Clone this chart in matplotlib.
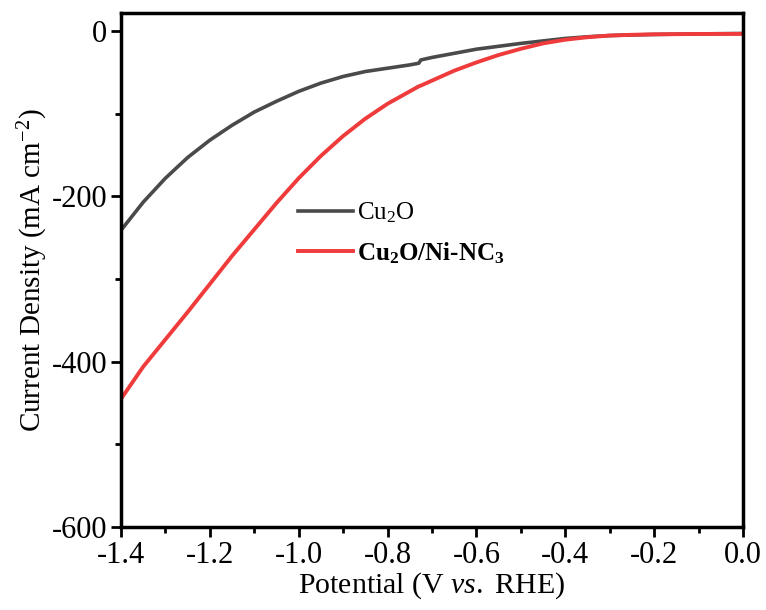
import matplotlib.pyplot as plt
import numpy as np

plt.rcParams['font.family'] = ['Liberation Serif', 'DejaVu Serif']
plt.rcParams['mathtext.fontset'] = 'custom'
plt.rcParams['mathtext.rm'] = 'Liberation Serif'
plt.rcParams['mathtext.it'] = 'Liberation Serif:italic'
plt.rcParams['mathtext.bf'] = 'Liberation Serif:bold'

# potential (V vs. RHE)
pot = [-1.4, -1.35, -1.3, -1.25, -1.2, -1.15, -1.1, -1.05, -1.0, -0.95, -0.9, -0.85,
       -0.8, -0.75, -0.73, -0.725, -0.7, -0.65, -0.6, -0.55, -0.5, -0.45, -0.4,
       -0.35, -0.3, -0.25, -0.2, -0.1, 0.0]
# current density (mA cm-2)
cu2o = [-241, -207, -178, -153, -132, -114, -98, -85, -73, -63, -55, -49,
        -45, -41, -39, -35, -32, -27, -22, -18.5, -15, -12, -9,
        -7, -5.5, -4.8, -4.2, -3.5, -3]
cu2o_ni = [-445, -406, -373, -340, -306, -272, -240, -208, -178, -151, -127, -106,
           -88, -73, -67, -66, -60, -48, -38, -29, -21.5, -15, -10.5,
           -7.5, -5.5, -4.6, -4, -3.6, -3.5]

fig = plt.figure(figsize=(7.66, 6.10), dpi=100)
ax = fig.add_axes([0.158, 0.136, 0.812, 0.843])

ax.plot(pot, cu2o, color='#4a4a4a', lw=2.6, label='Cu$_2$O')
ax.plot(pot, cu2o_ni, color='#ef3b3b', lw=2.8, label=r'$\mathbf{Cu_2O/Ni}$-$\mathbf{NC_3}$')

ax.set_xlim(-1.4, 0.0)
ax.set_ylim(-600, 22)
ax.set_xticks(np.arange(-1.4, 0.01, 0.2))
ax.set_xticklabels(['-1.4', '-1.2', '-1.0', '-0.8', '-0.6', '-0.4', '-0.2', '0.0'])
ax.set_xticks(np.arange(-1.3, 0, 0.2), minor=True)
ax.set_yticks([-600, -400, -200, 0])
ax.set_yticklabels(['-600', '-400', '-200', '0'])
ax.set_yticks([-500, -300, -100], minor=True)

ax.tick_params(which='major', direction='out', length=7, width=2, labelsize=22, pad=3)
ax.tick_params(which='minor', direction='out', length=4, width=2)
for s in ax.spines.values():
    s.set_linewidth(2.5)

ax.set_xlabel('Potential (V $\\it{vs.}$ RHE)', fontsize=21.5, labelpad=0)
ax.set_ylabel('Current Density (mA cm$^{-2}$)', fontsize=21, labelpad=1)

leg = ax.legend(loc='upper left', bbox_to_anchor=(0.285, 0.635), frameon=False,
                fontsize=18, handlelength=2.2, handletextpad=0.15, borderpad=0,
                borderaxespad=0, labelspacing=0.6)
for t in leg.get_texts()[1:]:
    t.set_fontweight('bold')

fig.savefig('out.png', dpi=100)
